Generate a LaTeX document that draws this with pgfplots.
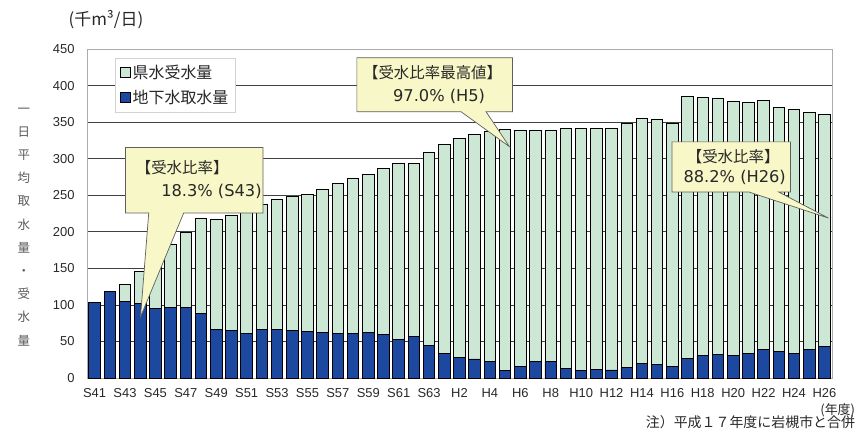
\documentclass[border=0pt]{standalone}
\usepackage{fontspec}
\setmainfont{Liberation Sans}
\newfontfamily\jp{Noto Sans CJK JP}
\newfontfamily\dv{DejaVu Sans}
\usepackage{pgfplots}
\usepackage{pgfplotstable}
\pgfplotsset{compat=1.18}
\definecolor{kgreen}{RGB}{204,232,212}
\definecolor{kblue}{RGB}{28,72,160}
\definecolor{cfill}{RGB}{247,247,200}
\definecolor{cline}{RGB}{95,95,95}
\definecolor{txt}{RGB}{40,40,40}

\pgfplotstableread{
i blue green
0 103 0
1 118 0
2 105 23
3 102 44
4 95 68
5 97 85
6 96 103
7 88 130
8 67 150
9 65 158
10 61 165
11 66 172
12 67 177
13 65 184
14 64 187
15 62 196
16 61 205
17 61 212
18 62 217
19 60 227
20 53 241
21 57 236
22 44 264
23 34 285
24 28 299
25 26 307
26 23 314
27 10 330
28 16 323
29 22 317
30 22 317
31 13 328
32 10 331
33 12 329
34 11 331
35 14 334
36 20 335
37 18 335
38 16 332
39 27 358
40 31 353
41 32 351
42 31 347
43 34 343
44 39 341
45 36 334
46 34 333
47 39 324
48 43 318
}\datatable

\begin{document}
\begin{tikzpicture}
\begin{axis}[
  at={(0,0)}, anchor=south west,
  scale only axis, width=745bp, height=329bp,
  xmin=-0.5, xmax=48.5, ymin=0, ymax=450,
  ybar stacked, bar width=0.76,
  xtick={0,2,...,48},
  xticklabels={S41,S43,S45,S47,S49,S51,S53,S55,S57,S59,S61,S63,H2,H4,H6,H8,H10,H12,H14,H16,H18,H20,H22,H24,H26},
  ytick={0,50,...,450},
  ymajorgrids, major grid style={black!75, line width=0.6bp},
  major tick length=0pt,
  axis line style={gray!65, line width=0.8bp},
  tick label style={font=\fontsize{13}{15}\selectfont, text=txt},
  /pgf/number format/assume math mode=true,
  yticklabel style={xshift=-9bp},
  xticklabel style={yshift=-7bp},
  clip=false,
  reverse legend,
  legend style={at={(0.0376,0.9726)}, anchor=north west, draw=gray!35, fill=white,
    font=\jp\fontsize{16}{19}\selectfont, text=txt, inner xsep=5bp, inner ysep=5bp,
    row sep=6bp, cells={anchor=west}},
  legend image code/.code={\draw[#1, draw=black, line width=0.5bp] (0bp,-5bp) rectangle (10bp,5bp);},
]
\addplot[fill=kblue, draw=black, line width=0.9bp] table[x=i,y=blue]{\datatable};
\addplot[fill=kgreen, draw=black, line width=0.9bp] table[x=i,y=green]{\datatable};
\legend{地下水取水量, 県水受水量}
\end{axis}

% annotations in the axis' own units: x = bar index, y = value
\begin{scope}[x=15.20408bp, y=0.731111bp, shift={(7.60204bp,0bp)}]
% callout 1
\draw[fill=cfill, draw=cline, line width=0.7bp]
  (2.03,315.2) -- (11.08,315.2) -- (11.08,225.7) -- (5.86,225.7)
  -- (3.02,83.6) -- (3.56,225.7) -- (2.03,225.7) -- cycle;
\node[anchor=west, font=\jp\fontsize{15.5}{18}\selectfont, text=txt, inner sep=0pt] at (2.7,287.8) {【受水比率】};
\node[anchor=east, font=\dv\fontsize{16.3}{18}\selectfont, text=txt, inner sep=0pt] at (11.0,254.9) {18.3\% (S43)};
% callout 2
\draw[fill=cfill, draw=cline, line width=0.7bp]
  (17.25,438.1) -- (27.48,438.1) -- (27.48,364.1) -- (25.75,364.1)
  -- (27.28,316.5) -- (24.11,364.1) -- (17.25,364.1) -- cycle;
\node[font=\jp\fontsize{15.5}{18}\selectfont, text=txt, inner sep=0pt] at (22.23,417.5) {【受水比率最高値】};
\node[font=\dv\fontsize{16.3}{18}\selectfont, text=txt, inner sep=0pt] at (22.66,384.6) {97.0\% (H5)};
% callout 3
\draw[fill=cfill, draw=cline, line width=0.7bp]
  (37.97,323) -- (45.77,323) -- (45.77,254.5) -- (44.98,254.5)
  -- (48.26,218.8) -- (43.02,254.5) -- (37.97,254.5) -- cycle;
\node[font=\jp\fontsize{15.5}{18}\selectfont, text=txt, inner sep=0pt] at (42.0,302.4) {【受水比率】};
\node[font=\dv\fontsize{16.3}{18}\selectfont, text=txt, inner sep=0pt] at (42.1,275) {88.2\% (H26)};
% labels outside the plot area
\node[font=\jp\fontsize{12.5}{23.3}\selectfont, text=black!65, align=center, inner sep=0pt]
  at (-4.66,206.9) {一\\日\\平\\均\\取\\水\\量\\・\\受\\水\\量};
\node[anchor=west, font=\jp\fontsize{17}{19}\selectfont, text=txt, inner sep=0pt] at (-1.72,490.1) {(千m³/日)};
\node[anchor=east, font=\jp\fontsize{13}{16}\selectfont, text=txt, inner sep=0pt] at (50.03,-44.3) {(年度)};
\node[anchor=east, font=\jp\fontsize{14}{16}\selectfont, text=txt, inner sep=0pt] at (50.03,-60.3) {注）平成１７年度に岩槻市と合併};
\end{scope}

\pgfresetboundingbox
\path[use as bounding box] (-87bp,-56bp) rectangle (771bp,378bp);
\end{tikzpicture}
\end{document}
